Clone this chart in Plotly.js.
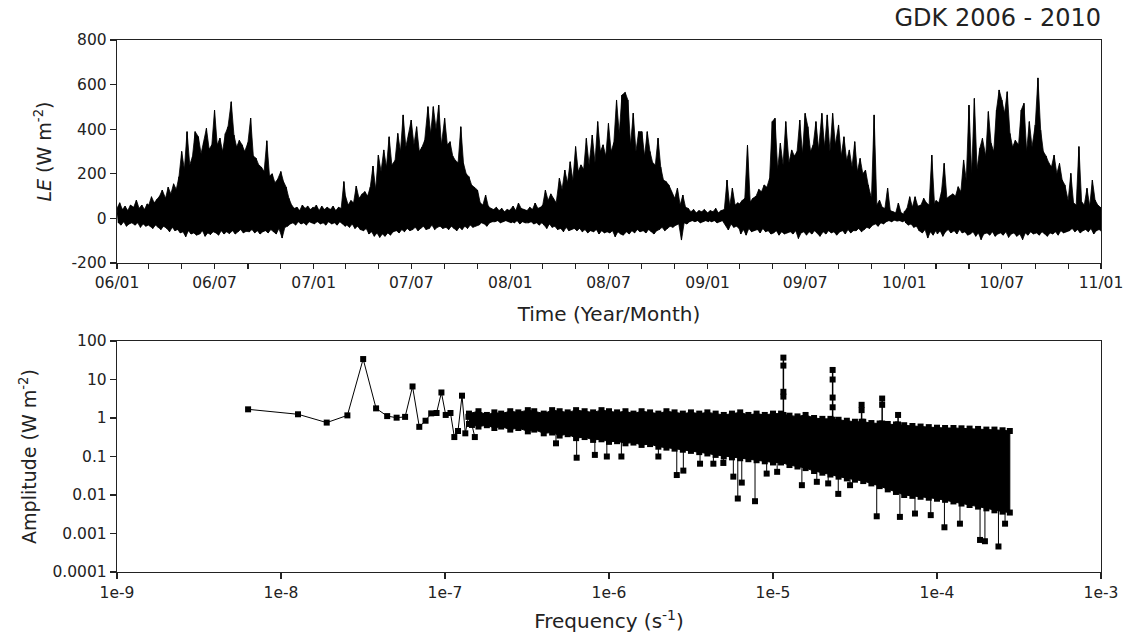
<!DOCTYPE html>
<html>
<head>
<meta charset="utf-8">
<script src="https://cdn.plot.ly/plotly-3.0.1.min.js"></script>
<style>
html,body{margin:0;padding:0;background:#fff;}
#chart{width:1124px;height:636px;}
</style>
</head>
<body>
<div id="chart"></div>
<script>
// ---------- Time series (LE, W m-2): upper / lower excursions sampled every 5 days ----------
const years = [2006, 2007, 2008, 2009, 2010];
const sampleDays = [1, 6, 11, 16, 21, 26];   // sampling days of each month (December also 31)

const hi2006 = [45,70,40,55,35,60, 50,82,45,60,40,65, 60,97,70,85,100,127, 90,140,110,155,130,187,
  300,220,389,240,277,389, 366,290,340,404,310,330, 486,330,360,300,380,411, 523,374,320,350,330,300,
  340,450,280,270,240,230, 210,348,190,200,160,175, 210,165,140,90,60,45, 50,35,60,45,55,40,50];
const lo2006 = [-20,-30,-15,-35,-25,-20, -30,-20,-40,-25,-35,-30, -35,-45,-30,-40,-50,-35, -45,-60,-40,-55,-50,-65,
  -60,-82,-55,-70,-65,-75, -70,-55,-80,-65,-72,-60, -65,-75,-55,-70,-60,-68, -55,-70,-60,-50,-65,-58,
  -60,-50,-65,-55,-70,-60, -55,-65,-50,-60,-70,-45, -88,-40,-35,-25,-20,-30, -15,-25,-20,-30,-15,-20,-25];

const hi2007 = [45,60,35,55,40,50, 40,55,35,50,45,165, 100,60,80,70,145,90, 110,120,100,140,235,130,
  284,210,307,230,366,240, 260,381,300,464,320,380, 441,330,411,300,320,350, 501,380,501,400,508,330,
  449,330,344,280,260,250, 411,247,200,187,150,140, 127,70,60,105,55,45, 40,50,35,45,30,40,35];
const lo2007 = [-20,-15,-25,-20,-30,-15, -25,-20,-30,-15,-25,-35, -30,-40,-25,-45,-35,-50, -55,-45,-70,-60,-80,-65,
  -85,-70,-80,-65,-75,-60, -55,-65,-50,-60,-45,-55, -50,-40,-55,-45,-35,-50, -45,-30,-50,-40,-35,-45,
  -40,-50,-35,-45,-55,-40, -50,-35,-45,-30,-40,-35, -30,-20,-25,-35,-20,-15, -15,-10,-20,-15,-10,-15,-20];

const hi2008 = [40,55,35,69,45,40, 35,50,40,69,45,50, 60,127,80,110,90,70, 181,130,217,160,254,170,
  322,210,240,220,359,240, 374,250,434,300,330,280, 426,300,340,531,380,553, 565,531,330,472,300,389,
  389,280,389,300,250,240, 360,230,172,165,150,120, 90,136,60,105,50,45, 30,40,25,35,30,40,25];
const lo2008 = [-15,-20,-10,-25,-15,-20, -20,-15,-25,-20,-30,-20, -30,-45,-25,-40,-35,-50, -45,-60,-40,-55,-50,-45,
  -55,-45,-60,-50,-65,-55, -60,-50,-70,-55,-65,-60, -65,-55,-82,-60,-70,-75, -60,-70,-55,-65,-50,-60,
  -55,-65,-50,-60,-70,-55, -50,-40,-55,-45,-35,-40, -30,-25,-97,-20,-25,-15, -10,-15,-10,-20,-15,-10,-15];

const hi2009 = [25,35,30,45,25,35, 40,172,55,136,60,70, 65,80,90,329,75,90, 100,130,120,150,140,180,
  434,449,220,337,240,434, 250,307,280,300,441,290, 471,411,300,330,434,310, 471,320,464,300,471,330,
  419,280,366,260,307,230, 344,210,269,200,217,150, 90,464,60,82,50,45, 136,35,30,25,69,25,20];
const lo2009 = [-10,-15,-10,-20,-15,-10, -30,-52,-25,-40,-35,-45, -70,-50,-75,-45,-60,-55, -50,-65,-45,-60,-55,-70,
  -65,-55,-75,-60,-70,-65, -60,-70,-55,-90,-65,-60, -75,-60,-70,-55,-65,-80, -60,-70,-55,-65,-60,-75,
  -60,-55,-70,-50,-65,-55, -55,-45,-60,-50,-40,-45, -30,-25,-35,-20,-25,-15, -10,-15,-8,-12,-10,-15,-10];

const hi2010 = [30,45,97,50,97,55, 60,90,70,60,284,65, 80,70,120,247,90,100, 110,100,142,120,262,172,
  508,200,538,220,314,359, 280,479,337,300,486,576, 531,471,568,381,320,350, 330,486,516,300,434,320,
  419,630,396,300,280,250, 230,284,200,247,172,150, 80,202,70,60,322,75, 60,135,55,172,82,60,50];
const lo2010 = [-20,-30,-25,-40,-35,-55, -65,-50,-88,-60,-75,-55, -70,-55,-80,-60,-50,-65, -55,-70,-50,-65,-60,-75,
  -70,-60,-80,-65,-95,-70, -65,-75,-60,-80,-70,-65, -75,-60,-85,-70,-65,-80, -70,-95,-65,-75,-60,-70,
  -65,-75,-60,-70,-80,-65, -70,-60,-75,-55,-65,-60, -55,-45,-60,-50,-65,-55, -50,-60,-45,-70,-55,-50,-60];

const hiByYear = [hi2006, hi2007, hi2008, hi2009, hi2010];
const loByYear = [lo2006, lo2007, lo2008, lo2009, lo2010];

const timeTickVals = ['2006-01-01','2006-07-01','2007-01-01','2007-07-01','2008-01-01','2008-07-01',
  '2009-01-01','2009-07-01','2010-01-01','2010-07-01','2011-01-01'];
const timeTickText = ['06/01','06/07','07/01','07/07','08/01','08/07','09/01','09/07','10/01','10/07','11/01'];
const timeMinorVals = ['2006-03-01','2006-05-01','2006-09-01','2006-11-01','2007-03-01','2007-05-01','2007-09-01','2007-11-01',
  '2008-03-01','2008-05-01','2008-09-01','2008-11-01','2009-03-01','2009-05-01','2009-09-01','2009-11-01',
  '2010-03-01','2010-05-01','2010-09-01','2010-11-01'];
const leTickVals = [-200, 0, 200, 400, 600, 800];
const leTickText = ['-200', '0', '200', '400', '600', '800'];

// ---------- Amplitude spectrum ----------
const lowFreq = [6.3e-9,1.27e-8,1.9e-8,2.54e-8,3.17e-8,3.8e-8,4.44e-8,5.07e-8,5.71e-8,6.34e-8,6.97e-8,7.61e-8,
  8.24e-8,8.88e-8,9.51e-8,1.01e-7,1.08e-7,1.14e-7,1.2e-7,1.27e-7,1.33e-7,1.39e-7,1.46e-7,1.52e-7];
const lowAmp = [1.68,1.25,0.76,1.17,34,1.78,1.12,1.02,1.07,6.6,0.59,0.85,1.32,1.35,4.6,1.2,1.35,0.32,0.46,3.8,0.4,1.07,0.66,0.32];

const bandFreq = [1.4e-7,1.6e-7,1.8e-7,2.0e-7,2.2e-7,2.5e-7,2.8e-7,3.2e-7,3.5e-7,4.0e-7,4.5e-7,5.0e-7,5.6e-7,6.3e-7,
  7.1e-7,8.0e-7,9.0e-7,1.0e-6,1.12e-6,1.26e-6,1.41e-6,1.58e-6,1.78e-6,2.0e-6,2.24e-6,2.51e-6,2.82e-6,3.16e-6,
  3.55e-6,3.98e-6,4.47e-6,5.01e-6,5.62e-6,6.31e-6,7.08e-6,7.94e-6,8.91e-6,1.0e-5,1.12e-5,1.26e-5,1.41e-5,1.58e-5,
  1.78e-5,2.0e-5,2.24e-5,2.51e-5,2.82e-5,3.16e-5,3.55e-5,3.98e-5,4.47e-5,5.01e-5,5.62e-5,6.31e-5,7.08e-5,7.94e-5,
  8.91e-5,1.0e-4,1.12e-4,1.26e-4,1.41e-4,1.58e-4,1.78e-4,2.0e-4,2.24e-4,2.51e-4,2.78e-4];
const bandTop = [1.3,1.5,1.2,1.4,1.3,1.5,1.4,1.6,1.5,1.3,1.6,1.5,1.4,1.6,1.5,1.4,1.6,1.5,1.4,1.5,1.3,1.5,1.4,1.3,
  1.5,1.4,1.3,1.4,1.3,1.4,1.3,1.2,1.3,1.4,1.2,1.3,1.2,1.3,1.3,1.15,1.1,1.2,1.0,0.95,0.95,0.9,0.85,0.8,0.8,0.74,
  0.72,0.7,0.68,0.65,0.62,0.6,0.58,0.56,0.55,0.55,0.54,0.53,0.52,0.5,0.5,0.48,0.46];
const bandBot = [0.7,0.6,0.65,0.55,0.6,0.5,0.55,0.45,0.5,0.4,0.42,0.35,0.38,0.3,0.32,0.27,0.28,0.24,0.25,0.22,0.23,
  0.2,0.21,0.18,0.17,0.16,0.15,0.14,0.13,0.12,0.11,0.1,0.095,0.09,0.085,0.08,0.075,0.07,0.07,0.06,0.055,0.05,0.042,
  0.038,0.034,0.03,0.027,0.025,0.023,0.02,0.017,0.014,0.012,0.01,0.0095,0.009,0.0085,0.008,0.0075,0.0068,0.006,
  0.0055,0.005,0.0045,0.004,0.0037,0.0035];

// harmonics of the daily cycle (groups separated by null)
const peakFreq = [1.157e-5,1.157e-5,1.157e-5,1.157e-5,1.157e-5,null, 2.31e-5,2.31e-5,2.31e-5,2.31e-5,2.31e-5,null,
  3.47e-5,3.47e-5,3.47e-5,null, 4.63e-5,4.63e-5,4.63e-5,null, 5.79e-5,5.79e-5];
const peakAmp = [1.2,3.6,4.8,23,37,null, 0.9,1.9,3.4,10,17.7,null, 0.8,1.6,2.2,null, 0.72,2.2,3.2,null, 0.68,1.2];

const outFreq = [4.75e-7,6.35e-7,8.2e-7,9.7e-7,1.19e-6,2.0e-6,2.59e-6,2.84e-6,3.59e-6,4.33e-6,4.98e-6,5.73e-6,6.1e-6,
  6.45e-6,7.77e-6,9.15e-6,1.06e-5,1.5e-5,1.85e-5,2.17e-5,2.5e-5,2.95e-5,4.29e-5,5.94e-5,7.34e-5,9.16e-5,1.11e-4,
  1.38e-4,1.83e-4,1.96e-4,2.37e-4,2.6e-4];
const outAmp = [0.22,0.093,0.11,0.10,0.10,0.10,0.033,0.043,0.065,0.065,0.068,0.03,0.0081,0.021,0.0069,0.036,0.04,
  0.018,0.022,0.02,0.0107,0.018,0.0028,0.0027,0.0033,0.003,0.00145,0.0018,0.00068,0.00063,0.00046,0.0018];
const outFrom = [0.4,0.3,0.28,0.25,0.24,0.18,0.16,0.15,0.13,0.12,0.1,0.095,0.09,0.09,0.08,0.075,0.07,0.05,0.042,
  0.035,0.03,0.026,0.018,0.011,0.0095,0.0085,0.0075,0.006,0.005,0.0047,0.004,0.0037];

const freqTickVals = [1e-9,1e-8,1e-7,1e-6,1e-5,1e-4,1e-3];
const freqTickText = ['1e-9','1e-8','1e-7','1e-6','1e-5','1e-4','1e-3'];
const ampTickVals = [1e-4,1e-3,1e-2,1e-1,1,10,100];
const ampTickText = ['0.0001','0.001','0.01','0.1','1','10','100'];

// ---------- build traces ----------
const DAY = 86400000;
const tsX = [], tsY = [];          // zigzag signal
const upX = [], upY = [], dnX = [], dnY = [];   // envelope polygon of the dense signal
years.forEach((yr, yi) => {
  const hi = hiByYear[yi], lo = loByYear[yi];
  let idx = 0;
  for (let m = 0; m < 12; m++) {
    const days = m === 11 ? sampleDays.concat([31]) : sampleDays;
    days.forEach(d => {
      const t = Date.UTC(yr, m, d);
      tsX.push(t); tsY.push(hi[idx]);
      tsX.push(t + 2.5 * DAY); tsY.push(lo[idx]);
      upX.push(t); upY.push(hi[idx]);
      dnX.push(t + 2.5 * DAY); dnY.push(lo[idx]);
      idx++;
    });
  }
});
const polyX = upX.concat(dnX.slice().reverse());
const polyY = upY.concat(dnY.slice().reverse());

const black = '#000';
const mk = {symbol: 'square', size: 6, color: black};

const traces = [
  {x: polyX, y: polyY, xaxis: 'x', yaxis: 'y', type: 'scatter', mode: 'lines', fill: 'toself', fillcolor: black,
   line: {color: black, width: 0.8}, hoverinfo: 'skip'},
  {x: tsX, y: tsY, xaxis: 'x', yaxis: 'y', type: 'scatter', mode: 'lines',
   line: {color: black, width: 1}, hoverinfo: 'skip'},
  // spectrum band (dense region)
  {x: bandFreq.concat(bandFreq.slice().reverse()), y: bandTop.concat(bandBot.slice().reverse()),
   xaxis: 'x2', yaxis: 'y2', type: 'scatter', mode: 'lines', fill: 'toself', fillcolor: black,
   line: {color: black, width: 1}, hoverinfo: 'skip'},
  {x: bandFreq, y: bandTop, xaxis: 'x2', yaxis: 'y2', type: 'scatter', mode: 'markers', marker: mk, hoverinfo: 'skip'},
  {x: bandFreq, y: bandBot, xaxis: 'x2', yaxis: 'y2', type: 'scatter', mode: 'markers', marker: mk, hoverinfo: 'skip'},
  {x: lowFreq, y: lowAmp, xaxis: 'x2', yaxis: 'y2', type: 'scatter', mode: 'lines+markers',
   line: {color: black, width: 1}, marker: mk, hoverinfo: 'skip'},
  {x: peakFreq, y: peakAmp, xaxis: 'x2', yaxis: 'y2', type: 'scatter', mode: 'lines+markers', connectgaps: false,
   line: {color: black, width: 1.5}, marker: mk, hoverinfo: 'skip'},
];
const olX = [], olY = [];
outFreq.forEach((f, i) => { olX.push(f, f, null); olY.push(outFrom[i], outAmp[i], null); });
traces.push({x: olX, y: olY, xaxis: 'x2', yaxis: 'y2', type: 'scatter', mode: 'lines', connectgaps: false,
  line: {color: black, width: 1}, hoverinfo: 'skip'});
traces.push({x: outFreq, y: outAmp, xaxis: 'x2', yaxis: 'y2', type: 'scatter', mode: 'markers', marker: mk, hoverinfo: 'skip'});

const FONT = 'DejaVu Sans, Liberation Sans, Arial, sans-serif';
const TXT = '#222';
const axisCommon = {showgrid: false, zeroline: false, showline: true, linecolor: '#222', linewidth: 1.2,
  mirror: true, ticks: 'outside', tickcolor: '#222', tickwidth: 1.2,
  tickfont: {family: FONT, size: 15.5, color: TXT}};

const layout = {
  width: 1124, height: 636,
  margin: {l: 117, r: 23, t: 40, b: 64},
  paper_bgcolor: '#fff', plot_bgcolor: '#fff',
  showlegend: false,
  font: {family: FONT, color: TXT},
  title: {text: 'GDK 2006 - 2010', x: 1, xref: 'paper', xanchor: 'right', y: 0.972, yref: 'container', yanchor: 'middle',
    font: {family: FONT, size: 24, color: TXT}},
  xaxis: Object.assign({}, axisCommon, {domain: [0, 1], anchor: 'y', type: 'date',
    range: ['2006-01-01', '2011-01-01'], tickmode: 'array', tickvals: timeTickVals, ticktext: timeTickText, ticklen: 5,
    minor: {tickmode: 'array', tickvals: timeMinorVals, ticks: 'outside', ticklen: 5, tickwidth: 1.2, tickcolor: '#222', showgrid: false},
    title: {text: 'Time (Year/Month)', font: {family: FONT, size: 20, color: TXT}, standoff: 16}}),
  yaxis: Object.assign({}, axisCommon, {domain: [0.5808, 1], anchor: 'x', range: [-200, 800],
    tickmode: 'array', tickvals: leTickVals, ticktext: leTickText, ticklen: 6,
    title: {text: '<i>LE</i> (W m<sup>-2</sup>)', font: {family: FONT, size: 19, color: TXT}, standoff: 14}}),
  xaxis2: Object.assign({}, axisCommon, {domain: [0, 1], anchor: 'y2', type: 'log', range: [-9, -3],
    tickmode: 'array', tickvals: freqTickVals, ticktext: freqTickText, ticklen: 6,
    title: {text: 'Frequency (s<sup>-1</sup>)', font: {family: FONT, size: 20, color: TXT}, standoff: 13}}),
  yaxis2: Object.assign({}, axisCommon, {domain: [0, 0.4342], anchor: 'x2', type: 'log', range: [-4, 2],
    tickmode: 'array', tickvals: ampTickVals, ticktext: ampTickText, ticklen: 6,
    title: {text: 'Amplitude (W m<sup>-2</sup>)', font: {family: FONT, size: 19, color: TXT}, standoff: 10}}),
};

Plotly.newPlot('chart', traces, layout, {staticPlot: true, displayModeBar: false});
</script>
</body>
</html>
